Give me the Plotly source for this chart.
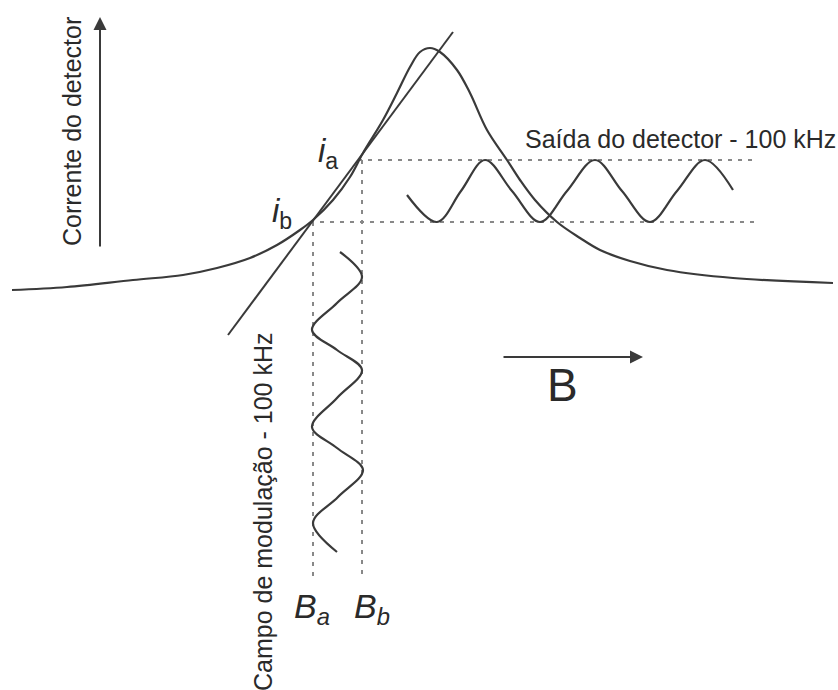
import plotly.graph_objects as go

# Resonance (absorption) curve (pixel coords)
curve_x = [12, 67, 133, 183, 217, 250, 277, 300, 313, 333, 350, 363, 383, 397, 410,
           420, 430, 440, 457, 470, 487, 507, 520, 535, 557, 580, 600, 630, 667, 733, 833]
curve_y = [290, 287, 280, 275, 268, 258, 245, 230, 220, 200, 177, 153, 120, 93, 67,
           52, 48, 52, 70, 93, 130, 160, 180, 200, 222, 238, 250, 261, 270, 278, 283]

# Tangent line end points
tangent_x = [228, 453]
tangent_y = [335, 32]

# Detector output wave (horizontal)
out_x = [407, 437, 461, 485, 512, 540, 567, 595, 622, 650, 677, 705, 733]
out_y = [195, 222, 191, 160, 191, 222, 191, 160, 191, 222, 191, 160, 190]

# Modulation field wave (vertical)
mod_x = [340, 362, 337, 312, 337, 362, 337, 312, 337, 363, 338, 313, 337]
mod_y = [252, 277, 303, 330, 350, 370, 398, 427, 448, 470, 497, 523, 552]

# Dotted guide lines: (x0, y0, x1, y1)
guides = [
    (358, 160, 752, 160),
    (310, 222, 760, 222),
    (313, 222, 313, 578),
    (362, 160, 362, 578),
]

LINE = "#3a3a3a"
TXT = "#2a2a2a"
DOT = "#888888"

fig = go.Figure()

for g in guides:
    fig.add_trace(go.Scatter(x=[g[0], g[2]], y=[g[1], g[3]], mode="lines",
                             line=dict(color=DOT, width=2, dash="4px,6px"),
                             hoverinfo="skip"))

fig.add_trace(go.Scatter(x=curve_x, y=curve_y, mode="lines",
                         line=dict(color=LINE, width=2.2, shape="spline", smoothing=1.0),
                         hoverinfo="skip"))
fig.add_trace(go.Scatter(x=tangent_x, y=tangent_y, mode="lines",
                         line=dict(color=LINE, width=2), hoverinfo="skip"))
fig.add_trace(go.Scatter(x=out_x, y=out_y, mode="lines",
                         line=dict(color=LINE, width=2.2, shape="spline", smoothing=1.0),
                         hoverinfo="skip"))
fig.add_trace(go.Scatter(x=mod_x, y=mod_y, mode="lines",
                         line=dict(color=LINE, width=2.2, shape="spline", smoothing=1.0),
                         hoverinfo="skip"))

FONT = "Liberation Sans, Arial, sans-serif"

# Arrows
fig.add_annotation(x=100, y=17, ax=100, ay=248, xref="x", yref="y", axref="x", ayref="y",
                   text="", showarrow=True, arrowhead=2, arrowsize=1.3, arrowwidth=2,
                   arrowcolor=LINE)
fig.add_annotation(x=643, y=357, ax=502, ay=357, xref="x", yref="y", axref="x", ayref="y",
                   text="", showarrow=True, arrowhead=2, arrowsize=1.3, arrowwidth=2,
                   arrowcolor=LINE)

# Texts
fig.add_annotation(x=72, y=132, text="Corrente do detector", textangle=-90,
                   showarrow=False, font=dict(family=FONT, size=25, color=TXT))
fig.add_annotation(x=263, y=512, text="Campo de modulação - 100 kHz", textangle=-90,
                   showarrow=False, font=dict(family=FONT, size=25, color=TXT))
fig.add_annotation(x=680, y=139, text="Saída do detector - 100 kHz",
                   showarrow=False, font=dict(family=FONT, size=25, color=TXT))
fig.add_annotation(x=562, y=385, text="B",
                   showarrow=False, font=dict(family=FONT, size=46, color=TXT))
fig.add_annotation(x=316, y=153, text="<i>i</i><sub>a</sub>", xanchor="left",
                   showarrow=False, font=dict(family=FONT, size=33, color=TXT))
fig.add_annotation(x=270, y=213, text="<i>i</i><sub>b</sub>", xanchor="left",
                   showarrow=False, font=dict(family=FONT, size=33, color=TXT))
fig.add_annotation(x=292, y=608, text="<i>B<sub>a</sub></i>", xanchor="left",
                   showarrow=False, font=dict(family=FONT, size=34, color=TXT))
fig.add_annotation(x=352, y=608, text="<i>B<sub>b</sub></i>", xanchor="left",
                   showarrow=False, font=dict(family=FONT, size=34, color=TXT))

fig.update_xaxes(range=[0, 838], visible=False, fixedrange=True)
fig.update_yaxes(range=[690, 0], visible=False, fixedrange=True)
fig.update_layout(width=838, height=690, margin=dict(l=0, r=0, t=0, b=0),
                  showlegend=False, plot_bgcolor="white", paper_bgcolor="white")

fig.write_html("out.html")
